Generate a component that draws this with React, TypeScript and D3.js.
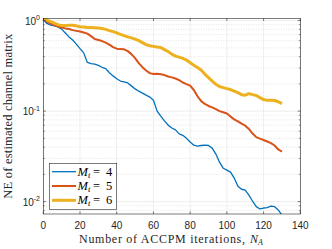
import React from "react";
import * as d3 from "d3";

// iterations sampled every 2 steps
const iterations = d3.range(0, 131, 2);

const neMt4 = [
  1.02, 0.93, 0.89, 0.875, 0.85, 0.805, 0.73, 0.66, 0.61, 0.55, 0.49, 0.44, 0.345, 0.335, 0.33, 0.32,
  0.305, 0.295, 0.265, 0.245, 0.228, 0.215, 0.21, 0.205, 0.19, 0.176, 0.166, 0.158, 0.15, 0.143, 0.132,
  0.1, 0.088, 0.078, 0.07, 0.065, 0.062, 0.056, 0.054, 0.05, 0.0455, 0.042, 0.041, 0.0417, 0.042, 0.0417,
  0.039, 0.0335, 0.0273, 0.0234, 0.0223, 0.0212, 0.0182, 0.0148, 0.0137, 0.0134, 0.0118, 0.0101, 0.0088,
  0.0083, 0.0085, 0.0086, 0.0089, 0.0088, 0.0081, 0.0071,
];
const neMt5 = [
  1.04, 0.975, 0.927, 0.892, 0.859, 0.837, 0.82, 0.806, 0.785, 0.77, 0.756, 0.737, 0.718, 0.674, 0.625,
  0.609, 0.594, 0.571, 0.543, 0.51, 0.49, 0.484, 0.482, 0.46, 0.426, 0.385, 0.339, 0.306, 0.281, 0.263,
  0.257, 0.258, 0.255, 0.25, 0.241, 0.236, 0.229, 0.22, 0.207, 0.199, 0.191, 0.171, 0.146, 0.129, 0.12,
  0.114, 0.11, 0.105, 0.1, 0.097, 0.094, 0.087, 0.081, 0.077, 0.0727, 0.0691, 0.0635, 0.0565, 0.0516,
  0.0497, 0.048, 0.0462, 0.0443, 0.0417, 0.0377, 0.0357,
];
const neMt6 = [
  1.08, 1.01, 0.975, 0.938, 0.903, 0.88, 0.88, 0.89, 0.89, 0.875, 0.855, 0.848, 0.841, 0.84, 0.833, 0.826,
  0.816, 0.8, 0.775, 0.756, 0.731, 0.704, 0.683, 0.661, 0.644, 0.625, 0.601, 0.571, 0.543, 0.527, 0.519,
  0.51, 0.503, 0.478, 0.455, 0.426, 0.405, 0.395, 0.382, 0.366, 0.343, 0.322, 0.303, 0.284, 0.256, 0.234,
  0.214, 0.198, 0.187, 0.182, 0.177, 0.173, 0.166, 0.16, 0.152, 0.15, 0.156, 0.152, 0.149, 0.141, 0.134,
  0.132, 0.132, 0.131, 0.127, 0.121,
];

const legendLabels = ["4", "5", "6"];
const xTicks = [0, 20, 40, 60, 80, 100, 120, 140];
const yTicks = [1, 0.1, 0.01];
const yTickExp = ["0", "-1", "-2"];

const series = [
  { values: neMt4, color: "#0072BD", width: 1.3 },
  { values: neMt5, color: "#D95319", width: 2 },
  { values: neMt6, color: "#EDB120", width: 3 },
];

const W = 332;
const H = 249;
const left = 43.3;
const right = 300.3;
const top = 18.3;
const bottom = 214;

const axisColor = "#262626";
const sans = "'Liberation Sans', Arial, sans-serif";
const serif = "'Liberation Serif', 'Times New Roman', serif";

export default function App() {
  const x = d3.scaleLinear().domain([0, 140]).range([left, right]);
  const y = d3.scaleLog().domain([0.0073, 1.06]).range([bottom, top]);

  const minorY: number[] = [];
  [0.001, 0.01, 0.1].forEach((dec) => {
    for (let k = 2; k <= 9; k++) {
      const v = dec * k;
      if (v >= 0.0073 && v <= 1.06) minorY.push(v);
    }
  });

  const line = d3
    .line<number>()
    .x((_, i) => x(iterations[i]))
    .y((d) => y(d));

  return (
    <svg width={W} height={H} style={{ position: "absolute", left: 0, top: 0, background: "#fff" }}>
      <defs>
        <clipPath id="plotClip">
          <rect x={left} y={top} width={right - left} height={bottom - top} />
        </clipPath>
      </defs>

      {/* grid */}
      {minorY.map((v) => (
        <line key={"mg" + v} x1={left} x2={right} y1={y(v)} y2={y(v)} stroke="#d4d4d4" strokeWidth={0.6} strokeDasharray="1,1.5" />
      ))}
      {yTicks.map((v) => (
        <line key={"gy" + v} x1={left} x2={right} y1={y(v)} y2={y(v)} stroke="#e3e3e3" strokeWidth={0.6} />
      ))}
      {xTicks.map((v) => (
        <line key={"gx" + v} x1={x(v)} x2={x(v)} y1={top} y2={bottom} stroke="#e3e3e3" strokeWidth={0.6} />
      ))}

      {/* lines */}
      <g clipPath="url(#plotClip)">
        {series.map((s, i) => (
          <path key={i} d={line(s.values) || ""} fill="none" stroke={s.color} strokeWidth={s.width} strokeLinejoin="round" />
        ))}
      </g>

      {/* box and ticks */}
      <rect x={left} y={top} width={right - left} height={bottom - top} fill="none" stroke={axisColor} strokeWidth={0.6} />
      {xTicks.map((v) => (
        <g key={"xt" + v}>
          <line x1={x(v)} x2={x(v)} y1={bottom} y2={bottom - 2.6} stroke={axisColor} strokeWidth={0.6} />
          <line x1={x(v)} x2={x(v)} y1={top} y2={top + 2.6} stroke={axisColor} strokeWidth={0.6} />
          <text x={x(v)} y={229} textAnchor="middle" fontFamily={sans} fontSize={10} fill={axisColor}>
            {v}
          </text>
        </g>
      ))}
      {yTicks.map((v, i) => (
        <g key={"yt" + v}>
          <line x1={left} x2={left + 2.6} y1={y(v)} y2={y(v)} stroke={axisColor} strokeWidth={0.6} />
          <line x1={right} x2={right - 2.6} y1={y(v)} y2={y(v)} stroke={axisColor} strokeWidth={0.6} />
          <text x={40} y={y(v) + 4} textAnchor="end" fontFamily={sans} fontSize={10} fill={axisColor}>
            10
            <tspan fontSize={7} dy={-4.5}>
              {yTickExp[i]}
            </tspan>
          </text>
        </g>
      ))}
      {minorY.map((v) => (
        <g key={"ym" + v}>
          <line x1={left} x2={left + 1.5} y1={y(v)} y2={y(v)} stroke={axisColor} strokeWidth={0.5} />
          <line x1={right} x2={right - 1.5} y1={y(v)} y2={y(v)} stroke={axisColor} strokeWidth={0.5} />
        </g>
      ))}

      {/* axis labels */}
      <text x={79} y={243} fontFamily={serif} fontSize={12} fill={axisColor}>
        <tspan textLength={166} lengthAdjust="spacing">Number of ACCPM iterations,</tspan>
        <tspan x={250} fontStyle="italic">N</tspan>
        <tspan fontStyle="italic" fontSize={8} dy={2}>
          A
        </tspan>
      </text>
      <text
        transform={`translate(11.5, ${(top + bottom) / 2}) rotate(-90)`}
        textAnchor="middle"
        fontFamily={serif}
        fontSize={12.5}
        letterSpacing={0.2}
        fill={axisColor}
      >
        NE of estimated channel matrix
      </text>

      {/* legend */}
      <rect x={49.3} y={163.3} width={67.4} height={46} fill="#fff" stroke={axisColor} strokeWidth={0.6} />
      {series.map((s, i) => {
        const ly = 171.7 + i * 14.3;
        return (
          <g key={"lg" + i}>
            <line x1={52} x2={76} y1={ly} y2={ly} stroke={s.color} strokeWidth={s.width} />
            <text y={ly + 4} fontFamily={serif} fontSize={12.5} fill="#000">
              <tspan x={77.5} fontStyle="italic">M</tspan>
              <tspan fontStyle="italic" fontSize={8.5} dy={2}>
                t
              </tspan>
              <tspan x={93} dy={-2}>=</tspan>
              <tspan x={106}>{legendLabels[i]}</tspan>
            </text>
          </g>
        );
      })}
    </svg>
  );
}
